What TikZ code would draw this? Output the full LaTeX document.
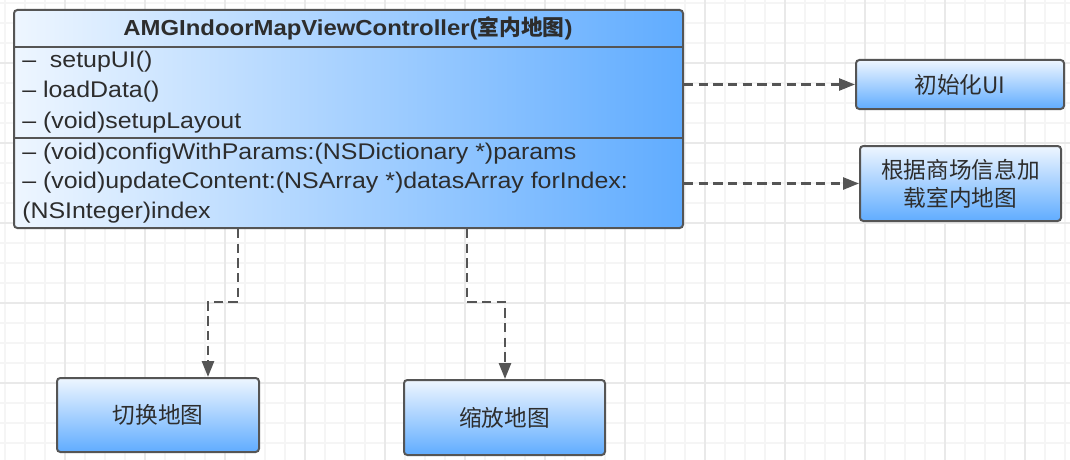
\documentclass[tikz,border=0pt]{standalone}
\usepackage{fontspec}
\setmainfont{Liberation Sans}[FakeStretch=1.1]
\newfontfamily\cjk{Noto Sans CJK SC}
\usetikzlibrary{arrows.meta,positioning,fit}
\definecolor{edgegray}{RGB}{85,85,85}
\definecolor{textdark}{RGB}{45,45,45}
\definecolor{paleblue}{RGB}{238,246,255}
\definecolor{skyblue}{RGB}{96,172,255}
\definecolor{gridminor}{RGB}{245,245,245}
\definecolor{gridmajor}{RGB}{233,233,233}

\begin{document}
\begin{tikzpicture}[x=0.75pt,y=-0.75pt,
  classbox/.style={draw=edgegray,line width=1.5pt,rounded corners=2.5pt,left color=paleblue,right color=skyblue,inner sep=0pt},
  leafbox/.style={draw=edgegray,line width=1.5pt,rounded corners=2.5pt,top color=paleblue,bottom color=skyblue,inner sep=0pt,text=textdark,font=\cjk\fontsize{17}{21}\selectfont,align=center},
  member/.style={anchor=base west,inner sep=0pt,text=textdark,font=\fontsize{17}{20}\selectfont},
  dep/.style={draw=edgegray,line width=2pt,dash pattern=on 7pt off 4pt,-{Triangle[length=12pt,width=9pt]}}]
\fill[white] (0,0) rectangle (1070,460);
\useasboundingbox (0,0) rectangle (1070,460);
% grid paper
\foreach \gx in {5,25,...,1065}{
  \draw[gridminor,line width=1.2pt] (\gx,0) -- (\gx,460);
}
\foreach \gy in {3,23,...,443}{
  \draw[gridminor,line width=1.2pt] (0,\gy) -- (1070,\gy);
}
\foreach \gx in {65,145,...,1025}{
  \draw[gridmajor,line width=1.2pt] (\gx,0) -- (\gx,460);
}
\foreach \gy in {63,143,...,383}{
  \draw[gridmajor,line width=1.2pt] (0,\gy) -- (1070,\gy);
}

% class box
\node[classbox,fit={(14,10) (683,228)}] (cls) {};
\draw[edgegray,line width=1.5pt] (cls.west |- 0,47) -- (cls.east |- 0,47);
\draw[edgegray,line width=1.5pt] (cls.west |- 0,138) -- (cls.east |- 0,138);
\node[text=textdark,font=\bfseries\fontsize{16.3}{20}\selectfont] (clsname) at (348,28) {AMGIndoorMapViewController({\cjk 室内地图})};
\node[member] (m1) at (22,68) {--\ \ setupUI()};
\node[member] (m2) at (22,98) {-- loadData()};
\node[member] (m3) at (22,128) {-- (void)setupLayout};
\node[member] (m4) at (22,159) {-- (void)configWithParams:(NSDictionary *)params};
\node[member] (m5) at (22,188) {-- (void)updateContent:(NSArray *)datasArray forIndex:};
\node[member] (m6) at (22,218) {(NSInteger)index};

% targets
\node[leafbox,minimum width=156pt,minimum height=36.75pt] (init) at (960,84.5) {初始化UI};
\node[leafbox,minimum width=150.75pt,minimum height=56.25pt] (load) at (960.5,183.5) {根据商场信息加\\载室内地图};
\node[leafbox,minimum width=151.5pt,minimum height=55.5pt] (swap) at (158,415) {切换地图};
\node[leafbox,minimum width=150.75pt,minimum height=56.25pt] (zoom) at (504.5,417.5) {缩放地图};

\draw[dep] (cls.east |- init.west) -- (init.west);
\draw[dep] (cls.east |- load.west) -- (load.west);
\draw[dep] (cls.south -| 238,0) -- (238,302) -- (208,302) -- (swap.north -| 208,0);
\draw[dep] (cls.south -| 467,0) -- (467,302) -- (505,302) -- (zoom.north -| 505,0);
\end{tikzpicture}
\end{document}
